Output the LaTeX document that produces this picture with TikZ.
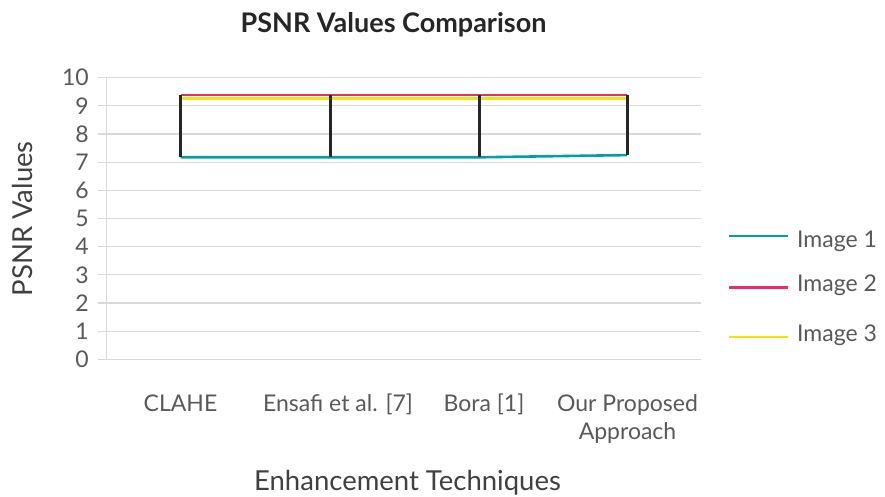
\documentclass[tikz,border=0pt]{standalone}
\usepackage{fontspec}
\setmainfont{Lato}
\definecolor{serA}{HTML}{00A0A3}
\definecolor{serB}{HTML}{EE2A6B}
\definecolor{serC}{HTML}{F0E40A}
\definecolor{hilo}{HTML}{262626}
\definecolor{gridc}{HTML}{D9D9D9}
\definecolor{ticktxt}{HTML}{595959}
\definecolor{axtxt}{HTML}{404040}
\begin{document}
\begin{tikzpicture}[x=1pt,y=-1pt,
  gridline/.style={draw=gridc, line width=1.2pt},
  ticklbl/.style={font=\fontsize{23}{27}\selectfont, text=ticktxt, inner sep=0pt, anchor=east},
  catlbl/.style={font=\fontsize{23}{28}\selectfont, text=ticktxt, inner sep=0pt, anchor=base, align=center},
  legtxt/.style={font=\fontsize{23}{27}\selectfont, text=ticktxt, inner sep=0pt, anchor=base west},
  axtitle/.style={font=\fontsize{27.5}{32}\selectfont, text=axtxt, inner sep=0pt},
  serAline/.style={draw=serA, line width=2.6pt},
  serBline/.style={draw=serB, line width=2.4pt},
  serCline/.style={draw=serC, line width=2.4pt},
  hiloline/.style={draw=hilo, line width=3pt}]
\useasboundingbox[fill=white] (0,0) rectangle (885,497);
% grid and ticks
\foreach \v in {0,...,10} {
  \draw[gridline] (98,{359.3-28.17*\v}) -- (701.3,{359.3-28.17*\v});
  \node[ticklbl] (tick\v) at (89,{359.3-28.17*\v}) {\v};
}
\draw[gridline] (106.5,77.6) -- (106.5,359.3);
% data points
\coordinate (a1) at (180.7,157.3); \coordinate (a2) at (330.7,157.3);
\coordinate (a3) at (479,157.3);   \coordinate (a4) at (627,155.1);
\coordinate (b1) at (180.7,95.1);  \coordinate (b2) at (330.7,95.1);
\coordinate (b3) at (479,95.1);    \coordinate (b4) at (627,95.1);
\coordinate (c1) at (180.7,98.4);  \coordinate (c2) at (330.7,98.4);
\coordinate (c3) at (479,98.4);    \coordinate (c4) at (627,98.4);
\draw[serAline] (a1) -- (a2) -- (a3) -- (a4);
\draw[serBline] (b1) -- (b2) -- (b3) -- (b4);
\draw[serCline] (c1) -- (c2) -- (c3) -- (c4);
\foreach \i in {1,2,3,4} { \draw[hiloline] (a\i) -- (b\i); }
% category labels
\node[catlbl] (cat1) at (180.5,411) {CLAHE};
\node[catlbl] (cat2) at (338,411) {Ensafi et al. [7]};
\node[catlbl] (cat3) at (484,411) {Bora [1]};
\node[catlbl] (cat4) at (627.5,439.3) {Our Proposed\\Approach};
% titles
\node[font=\bfseries\fontsize{27}{31}\selectfont, text=hilo, inner sep=0pt, anchor=base] (title) at (393.5,32.3) {PSNR Values Comparison};
\node[axtitle, anchor=base] (xtitle) at (407.5,490.7) {Enhancement Techniques};
\node[axtitle, anchor=base, rotate=90] (ytitle) at (32.7,218.8) {PSNR Values};
% legend
\coordinate (l1s) at (729,236);   \coordinate (l1e) at (788,236);
\coordinate (l2s) at (729,287.3); \coordinate (l2e) at (788,287.3);
\coordinate (l3s) at (729,336.7); \coordinate (l3e) at (788,336.7);
\draw[serAline] (l1s) -- (l1e);
\draw[serBline] (l2s) -- (l2e);
\draw[serCline] (l3s) -- (l3e);
\node[legtxt] (leg1) at (797,247.3) {Image 1};
\node[legtxt] (leg2) at (797,291) {Image 2};
\node[legtxt] (leg3) at (797,341) {Image 3};
\end{tikzpicture}
\end{document}
